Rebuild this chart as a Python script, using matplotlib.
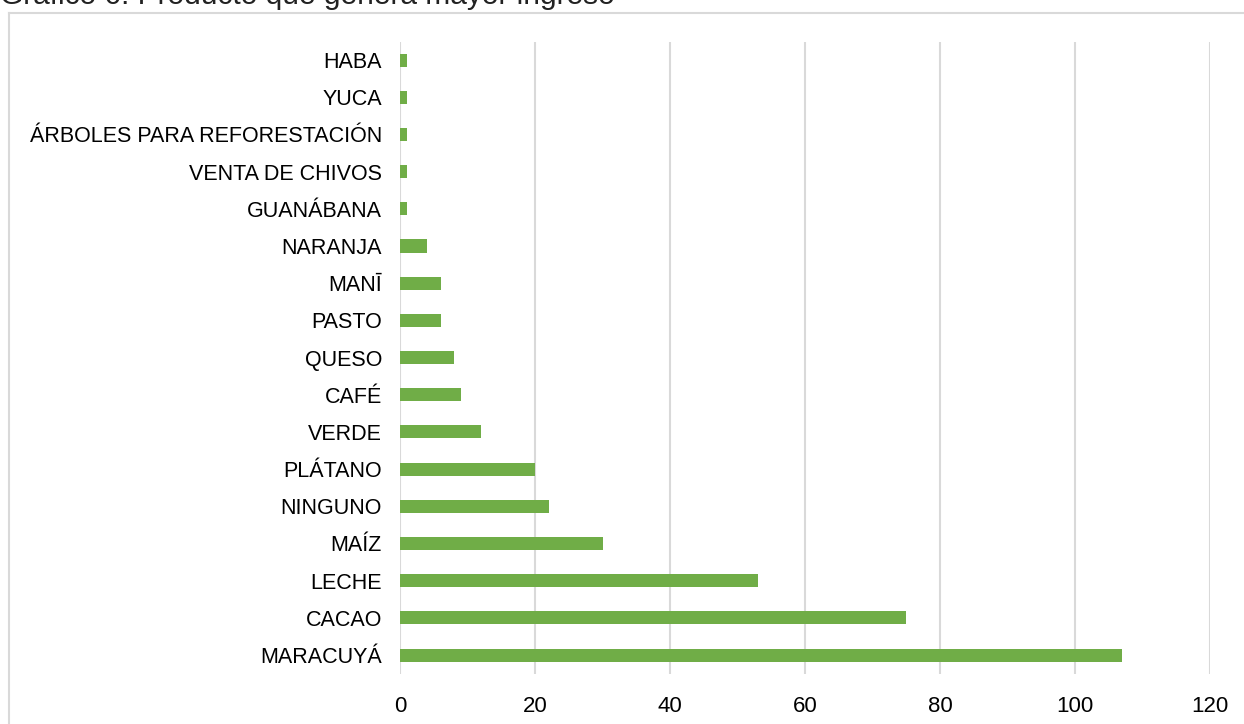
import matplotlib.pyplot as plt
from matplotlib.lines import Line2D

# Data (bottom to top as drawn)
productos = ["MARACUYÁ", "CACAO", "LECHE", "MAÍZ", "NINGUNO", "PLÁTANO", "VERDE",
             "CAFÉ", "QUESO", "PASTO", "MANĪ", "NARANJA", "GUANÁBANA",
             "VENTA DE CHIVOS", "ÁRBOLES PARA REFORESTACIÓN", "YUCA", "HABA"]
valores = [107, 75, 53, 30, 22, 20, 12, 9, 8, 6, 6, 4, 1, 1, 1, 1, 1]
x_ticks = [0, 20, 40, 60, 80, 100, 120]

plt.rcParams['font.family'] = ['Liberation Sans', 'DejaVu Sans']

W, H = 1244, 724
fig = plt.figure(figsize=(W / 100, H / 100), dpi=100)
ax = fig.add_axes([400 / W, 1 - 673.6 / H, 810 / W, (673.6 - 41.5) / H])

ax.barh(range(len(productos)), valores, height=0.35, color='#70AD47', zorder=3)
ax.set_xlim(0, 120)
ax.set_ylim(-0.5, len(productos) - 0.5)
ax.set_xticks(x_ticks)
ax.set_yticks(range(len(productos)))
ax.set_yticklabels(productos, fontsize=15.5)
ax.tick_params(axis='x', labelsize=16, length=0, pad=16)
ax.tick_params(axis='y', length=0, pad=13)
ax.grid(axis='x', color='#D9D9D9', linewidth=1.5, zorder=0)
for s in ax.spines.values():
    s.set_visible(False)

# outer chart border (left and top visible)
fig.add_artist(Line2D([9 / W, 9 / W], [0, 1 - 13 / H], color='#D9D9D9', lw=1.5,
                      transform=fig.transFigure))
fig.add_artist(Line2D([9 / W, 1], [1 - 13 / H, 1 - 13 / H], color='#D9D9D9', lw=1.5,
                      transform=fig.transFigure))

fig.text(0, 1 - 4.5 / H, "Gráfico 6. Producto que genera mayor ingreso", fontsize=21.5,
         va='baseline', ha='left', color='#222222')

fig.savefig('out.png', dpi=100)
